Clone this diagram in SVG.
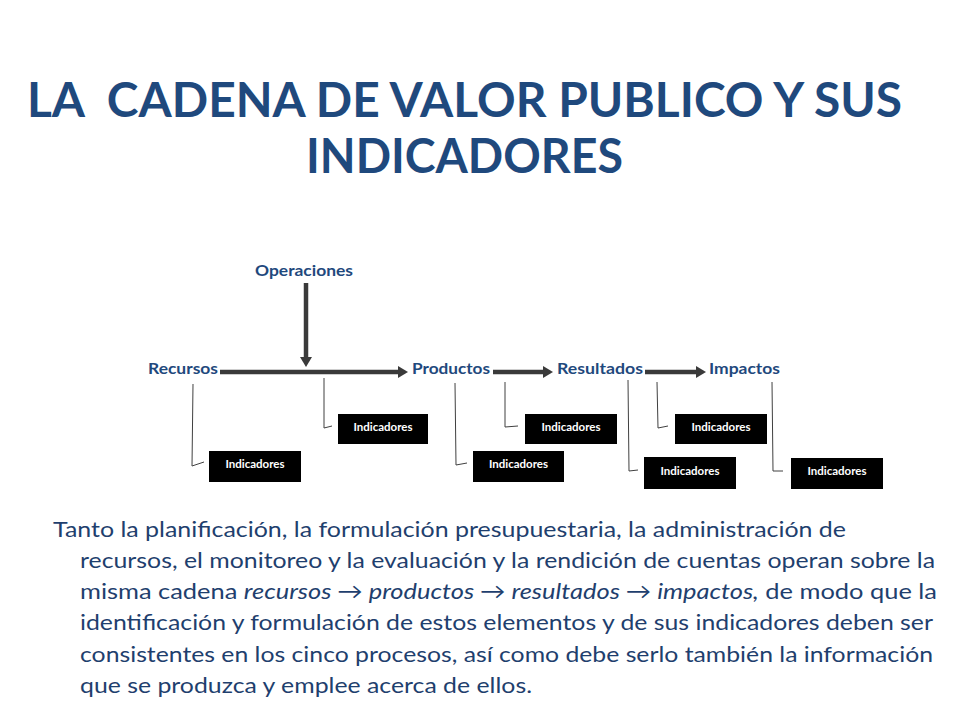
<svg xmlns="http://www.w3.org/2000/svg" width="960" height="720" viewBox="0 0 960 720">
<style>
  .title { font-family: Lato, "Liberation Sans", sans-serif; font-weight: 700; font-size: 48px; fill: #1F497D; }
  .label { font-family: Lato, "Liberation Sans", sans-serif; font-weight: 700; font-size: 16px; fill: #1F497D; }
  .box { fill: #000000; }
  .boxtext { font-family: Lato, "Liberation Sans", sans-serif; font-weight: 700; font-size: 11.5px; fill: #FFFFFF; text-anchor: middle; }
  .arrow { stroke: #3A3A3A; stroke-width: 4.5; fill: none; marker-end: url(#head); }
  .callout { stroke: #404040; stroke-width: 1; fill: none; }
  .body { font-family: Lato, "Liberation Sans", sans-serif; font-size: 22px; fill: #1F3F6E; }
</style>
<defs>
  <marker id="head" viewBox="0 0 10 12" refX="0" refY="6" markerWidth="10" markerHeight="12" markerUnits="userSpaceOnUse" orient="auto">
    <path d="M0,0 L10,6 L0,12 z" fill="#3A3A3A"/>
  </marker>
</defs>
<rect width="960" height="720" fill="#FFFFFF"/>

<g id="title">
  <text class="title" x="27" y="117" textLength="875" lengthAdjust="spacingAndGlyphs" xml:space="preserve">LA  CADENA DE VALOR PUBLICO Y SUS</text>
  <text class="title" x="306" y="173" textLength="317" lengthAdjust="spacingAndGlyphs">INDICADORES</text>
</g>

<g id="connectors">
  <line class="arrow" x1="306" y1="283" x2="306" y2="357"/>
  <line class="arrow" x1="220" y1="372" x2="398" y2="372"/>
  <line class="arrow" x1="493" y1="372" x2="543" y2="372"/>
  <line class="arrow" x1="645" y1="372" x2="696" y2="372"/>
  <polyline class="callout" points="193,384 192,466 204,462"/>
  <polyline class="callout" points="324,378 324,428 332,426"/>
  <polyline class="callout" points="455,383 456,465 467,463"/>
  <polyline class="callout" points="505,382 505,427 518,426"/>
  <polyline class="callout" points="628,380 629,471 638,470"/>
  <polyline class="callout" points="657,382 658,428 668,426"/>
  <polyline class="callout" points="772,382 773,471 783,471"/>
</g>

<g id="operaciones"><text class="label" x="255" y="276" textLength="98" lengthAdjust="spacingAndGlyphs">Operaciones</text></g>
<g id="recursos"><text class="label" x="148" y="374" textLength="70" lengthAdjust="spacingAndGlyphs">Recursos</text></g>
<g id="productos"><text class="label" x="412" y="374" textLength="78" lengthAdjust="spacingAndGlyphs">Productos</text></g>
<g id="resultados"><text class="label" x="557" y="374" textLength="86" lengthAdjust="spacingAndGlyphs">Resultados</text></g>
<g id="impactos"><text class="label" x="709" y="374" textLength="71" lengthAdjust="spacingAndGlyphs">Impactos</text></g>

<g id="ind-recursos"><rect class="box" x="209" y="451" width="92" height="31"/><text class="boxtext" x="255" y="468">Indicadores</text></g>
<g id="ind-operaciones"><rect class="box" x="338" y="414" width="90" height="30"/><text class="boxtext" x="383" y="431">Indicadores</text></g>
<g id="ind-productos"><rect class="box" x="473" y="451" width="91" height="31"/><text class="boxtext" x="518.5" y="468">Indicadores</text></g>
<g id="ind-prod-res"><rect class="box" x="525" y="414" width="92" height="30"/><text class="boxtext" x="571" y="431">Indicadores</text></g>
<g id="ind-resultados"><rect class="box" x="644" y="457" width="92" height="32"/><text class="boxtext" x="690" y="475">Indicadores</text></g>
<g id="ind-res-imp"><rect class="box" x="675" y="414" width="92" height="30"/><text class="boxtext" x="721" y="431">Indicadores</text></g>
<g id="ind-impactos"><rect class="box" x="791" y="458" width="92" height="31"/><text class="boxtext" x="837" y="475">Indicadores</text></g>

<g id="body">
  <text class="body" x="53" y="537" textLength="793" lengthAdjust="spacingAndGlyphs">Tanto la planificación, la formulación presupuestaria, la administración de</text>
  <text class="body" x="80" y="568" textLength="855" lengthAdjust="spacingAndGlyphs">recursos, el monitoreo y la evaluación y la rendición de cuentas operan sobre la</text>
  <text class="body" x="80" y="599" textLength="857" lengthAdjust="spacingAndGlyphs">misma cadena <tspan font-style="italic">recursos → productos → resultados → impactos,</tspan> de modo que la</text>
  <text class="body" x="80" y="630" textLength="853" lengthAdjust="spacingAndGlyphs">identificación y formulación de estos elementos y de sus indicadores deben ser</text>
  <text class="body" x="80" y="662" textLength="853" lengthAdjust="spacingAndGlyphs">consistentes en los cinco procesos, así como debe serlo también la información</text>
  <text class="body" x="80" y="693" textLength="452" lengthAdjust="spacingAndGlyphs">que se produzca y emplee acerca de ellos.</text>
</g>
</svg>
